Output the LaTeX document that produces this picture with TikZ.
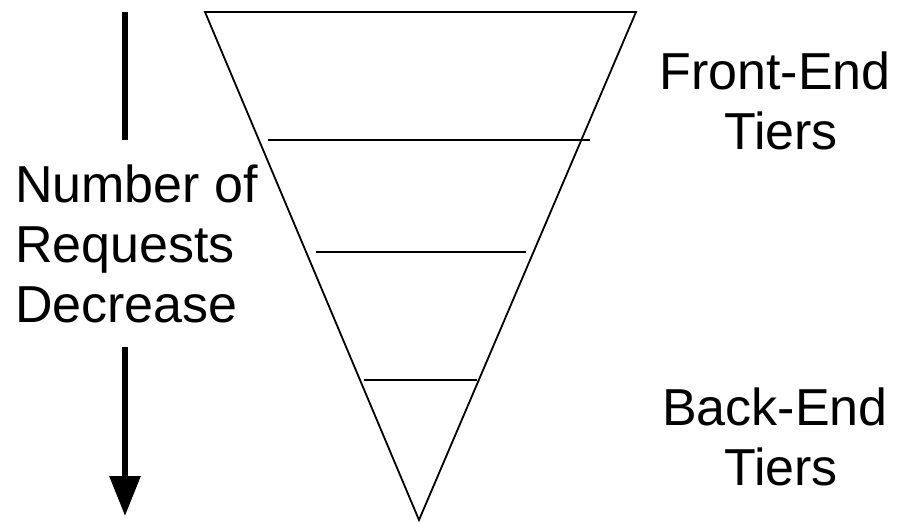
\documentclass[tikz,border=0pt]{standalone}
\usepackage{fontspec}
\setmainfont{Liberation Sans}
\usetikzlibrary{arrows.meta}
\begin{document}
\begin{tikzpicture}[x=1pt,y=-1pt,
  funnel/.style={line width=1.8pt, line join=miter},
  tierline/.style={line width=1.8pt},
  bar/.style={line width=6pt},
  label/.style={font=\fontsize{52}{60}\selectfont, inner sep=0pt, outer sep=0pt}]
\useasboundingbox (0,0) rectangle (909,523);
% funnel
\coordinate (tl) at (205,12);
\coordinate (tr) at (636,12);
\coordinate (bt) at (419,520);
\draw[funnel] (tl) -- (tr) -- (bt) -- cycle;
% tier separators
\coordinate (a1) at (268,140); \coordinate (b1) at (590,140);
\coordinate (a2) at (316,252); \coordinate (b2) at (526,252);
\coordinate (a3) at (364,380); \coordinate (b3) at (477,380);
\draw[tierline] (a1) -- (b1);
\draw[tierline] (a2) -- (b2);
\draw[tierline] (a3) -- (b3);
% labels (base anchor = baseline of the last line)
\node[label, anchor=base west, align=left] (req) at (15,322) {Number of\\Requests\\Decrease};
\node[label, anchor=base, align=center] (fe) at (775,149) {Front-End\\\hspace*{12pt}Tiers};
\node[label, anchor=base, align=center] (be) at (775,485) {Back-End\\\hspace*{12pt}Tiers};
% arrow
\coordinate (s1) at (125,12);
\coordinate (e1) at (125,140);
\coordinate (s2) at (125,347);
\coordinate (e2) at (125,516);
\draw[bar] (s1) -- (e1);
\draw[bar, -{Triangle[width=30pt,length=40pt]}] (s2) -- (e2);
\end{tikzpicture}
\end{document}
